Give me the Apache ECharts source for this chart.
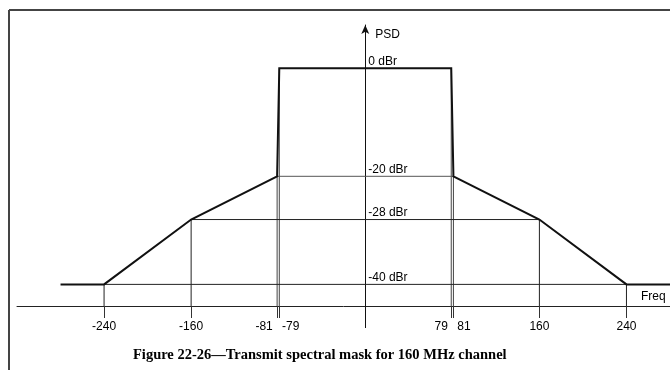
<!DOCTYPE html>
<html>
<head>
<meta charset="utf-8">
<script src="https://cdn.jsdelivr.net/npm/echarts@6/dist/echarts.min.js"></script>
<style>
  html, body { margin: 0; padding: 0; background: #ffffff; }
  #chart { width: 670px; height: 370px; }
</style>
</head>
<body>
<div id="chart"></div>
<script>
// ---- Data ----
const freqMHz    = [-240, -160, -81, -79, 79, 81, 160, 240];   // mask break points
const maskDbr    = [-40, -28, -20, 0, 0, -20, -28, -40];      // mask level at each break point
const maskEnds   = [-280, 280];                               // floor extends to these frequencies
const floorDbr   = -40;
const levelsDbr  = [0, -20, -28, -40];                        // labelled levels
const refLevels  = [-20, -28, -40];                           // thin horizontal reference lines
const refSpans   = [81, 160, 240];                            // half-width of each reference line
const tickLabels = ['-240', '-160', '-81', '-79', '79', '81', '160', '240'];
const captionText = 'Figure 22-26\u2014Transmit spectral mask for 160 MHz channel';

// ---- Axis extents / layout ----
const X_MIN = -320, X_MAX = 280;
const Y_MIN = -44, Y_MAX = 8;
const W = 670, GRID_LEFT = 17, GRID_RIGHT = 0;
const GRID_W = W - GRID_LEFT - GRID_RIGHT;
const zeroX = GRID_LEFT + (0 - X_MIN) / (X_MAX - X_MIN) * GRID_W;   // pixel x of 0 MHz

const SANS = '"Liberation Sans", Arial, sans-serif';
const SERIF = '"Liberation Serif", "Times New Roman", serif';
const TXT = '#000';

// mask polyline
const maskData = [[maskEnds[0], floorDbr]];
freqMHz.forEach((f, i) => maskData.push([f, maskDbr[i]]));
maskData.push([maskEnds[1], floorDbr]);

const series = [];
// vertical drop lines from each break point to the frequency axis
freqMHz.forEach((f, i) => {
  const inner = Math.abs(f) < 100;
  series.push({
    type: 'line', symbol: 'none', silent: true, animation: false,
    data: [[f, maskDbr[i]], [f, Y_MIN]],
    lineStyle: { color: inner ? '#444' : '#222', width: 1 }
  });
});
// horizontal reference lines
refLevels.forEach((lv, i) => {
  series.push({
    type: 'line', symbol: 'none', silent: true, animation: false,
    data: [[-refSpans[i], lv], [refSpans[i], lv]],
    lineStyle: { color: lv === -20 ? '#555' : '#222', width: 1 }
  });
});
// the mask itself
series.push({
  type: 'line', symbol: 'none', silent: true, animation: false,
  data: maskData,
  lineStyle: { color: '#111', width: 2, join: 'miter' },
  z: 5
});

// per-label horizontal nudges for the crowded -81/-79 and 79/81 pairs
const labelPad = { '-81': [0, 26, 0, 0], '-79': [0, 0, 0, 23], '79': [0, 20, 0, 0], '81': [0, 0, 0, 21] };
const padKeys = Object.keys(labelPad);
const rich = {};
padKeys.forEach((k, i) => {
  rich['p' + i] = { padding: labelPad[k], fontFamily: SANS, fontSize: 12, color: TXT };
});

const option = {
  backgroundColor: '#ffffff',
  animation: false,
  title: {
    text: captionText,
    left: 128, top: 343,
    textStyle: { fontFamily: SERIF, fontWeight: 'bold', fontSize: 14.5, color: TXT }
  },
  grid: { left: GRID_LEFT, right: GRID_RIGHT, top: 25, bottom: 64 },
  xAxis: [
    {
      type: 'value', min: X_MIN, max: X_MAX,
      axisLine: { show: true, onZero: false, lineStyle: { color: '#222', width: 1 } },
      axisTick: { show: true, customValues: freqMHz, length: 12, lineStyle: { color: '#333', width: 1 } },
      axisLabel: {
        customValues: freqMHz, margin: 15,
        fontFamily: SANS, fontSize: 12, color: TXT,
        formatter: function (v) {
          const idx = freqMHz.indexOf(v);
          const t = idx >= 0 ? tickLabels[idx] : String(v);
          const k = padKeys.indexOf(t);
          return k >= 0 ? '{p' + k + '|' + t + '}' : t;
        },
        rich: rich
      },
      splitLine: { show: false },
      name: 'Freq', nameLocation: 'end', nameGap: -29,
      nameTextStyle: { fontFamily: SANS, fontSize: 12, color: TXT, align: 'left', verticalAlign: 'bottom', padding: [0, 0, 3, 0] }
    },
    {
      type: 'value', min: X_MIN, max: X_MAX, position: 'bottom',
      axisLine: { show: false, onZero: false },
      axisTick: { show: true, customValues: [0], length: 22, lineStyle: { color: '#111', width: 1 } },
      axisLabel: { show: false },
      splitLine: { show: false }
    }
  ],
  yAxis: {
    type: 'value', min: Y_MIN, max: Y_MAX,
    offset: GRID_LEFT - zeroX,
    axisLine: { show: true, onZero: false, symbol: ['none', 'arrow'], symbolSize: [6, 9], lineStyle: { color: '#111', width: 1 } },
    axisTick: { show: false },
    splitLine: { show: false },
    axisLabel: {
      inside: true, customValues: levelsDbr, margin: 3,
      verticalAlign: 'bottom', padding: [0, 0, 1, 0],
      fontFamily: SANS, fontSize: 12, color: TXT,
      formatter: function (v) { return v + ' dBr'; }
    },
    name: 'PSD', nameLocation: 'end', nameGap: -16,
    nameTextStyle: { fontFamily: SANS, fontSize: 12, color: TXT, align: 'left', padding: [0, 0, 0, 10] }
  },
  graphic: [
    { type: 'line', silent: true, shape: { x1: 9, y1: 10, x2: 670, y2: 10 }, style: { stroke: '#444', lineWidth: 2 } },
    { type: 'line', silent: true, shape: { x1: 9, y1: 10, x2: 9, y2: 370 }, style: { stroke: '#444', lineWidth: 2 } }
  ],
  series: series
};

const chart = echarts.init(document.getElementById('chart'), null, { renderer: 'canvas' });
chart.setOption(option);
</script>
</body>
</html>
